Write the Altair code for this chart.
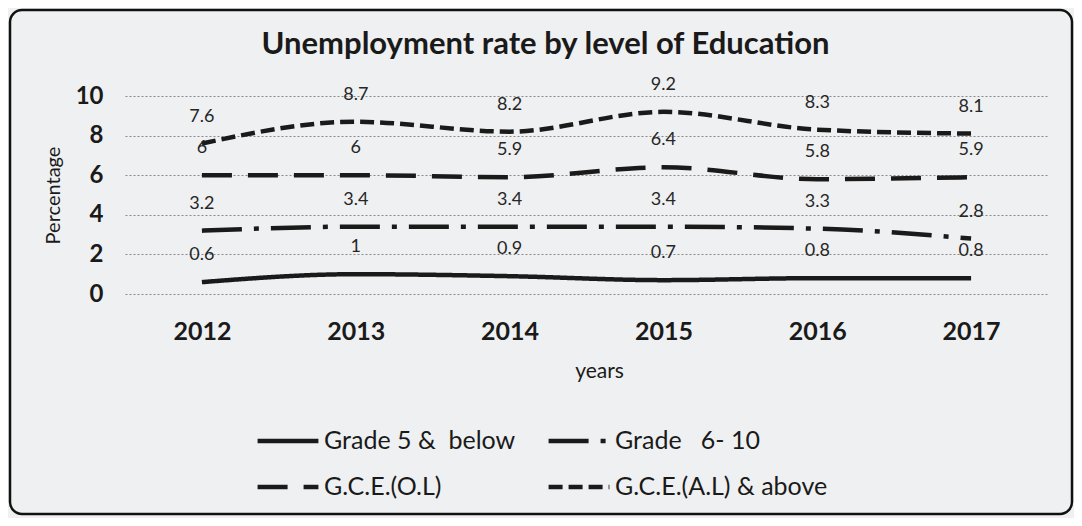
import altair as alt
import pandas as pd

years = ["2012", "2013", "2014", "2015", "2016", "2017"]
series_names = ["Grade 5 &\u00a0 below", "Grade \u00a0 6- 10", "G.C.E.(O.L)", "G.C.E.(A.L) & above"]
grade5_below = [0.6, 1, 0.9, 0.7, 0.8, 0.8]
grade6_10 = [3.2, 3.4, 3.4, 3.4, 3.3, 2.8]
gce_ol = [6, 6, 5.9, 6.4, 5.8, 5.9]
gce_al = [7.6, 8.7, 8.2, 9.2, 8.3, 8.1]

values = [grade5_below, grade6_10, gce_ol, gce_al]
rows = []
for name, vals in zip(series_names, values):
    for y, v in zip(years, vals):
        rows.append({"year": y, "series": name, "value": v})
df = pd.DataFrame(rows)

W, H = 923, 198
FONT = "Lato"
INK = "#1a1a1a"
BG = "#eff0f1"

x_enc = alt.X("year:N", scale=alt.Scale(type="point", padding=0.5),
              axis=alt.Axis(title="years", labelAngle=0, labelFontSize=25, labelFontWeight="bold",
                            labelColor=INK, labelPadding=25, ticks=False, domain=False, grid=False,
                            titleFontSize=21, titleFontWeight="normal", titleColor=INK, titlePadding=16,
                            titleX=474, titleAlign="center"))
y_enc = alt.Y("value:Q", scale=alt.Scale(domain=[0, 10], nice=False),
              axis=alt.Axis(title="Percentage", values=[0, 2, 4, 6, 8, 10], labelFontSize=24,
                            labelFontWeight="bold", labelColor=INK, labelPadding=22, ticks=False,
                            labelOverlap=False,
                            domain=False, grid=True, gridColor="#8a8a8a", gridDash=[2, 2], gridWidth=1,
                            titleFontSize=20, titleFontWeight="normal", titleColor=INK, titlePadding=12))

dash_scale = alt.Scale(domain=series_names,
                       range=[[1, 0], [40, 12, 5, 12], [30, 16], [14, 6]])

frame = alt.Chart(pd.DataFrame({"a": [0]})).mark_rect(
    filled=False, stroke="#111111", strokeWidth=2.5, cornerRadius=12
).encode(x=alt.value(-115), x2=alt.value(W + 24), y=alt.value(-86), y2=alt.value(H + 220))

lines = alt.Chart(df).mark_line(interpolate="monotone", strokeWidth=4.5, color=INK).encode(
    x=x_enc, y=y_enc,
    strokeDash=alt.StrokeDash("series:N", scale=dash_scale, sort=series_names,
                              legend=alt.Legend(title=None, orient="none", legendX=130, legendY=312,
                                                direction="horizontal", columns=2, columnPadding=23,
                                                rowPadding=-19,
                                                symbolType="stroke", symbolSize=3700,
                                                symbolStrokeWidth=4.5, symbolStrokeColor=INK,
                                                labelFontSize=25, labelColor=INK, labelFont=FONT,
                                                labelOffset=3, labelLimit=400, padding=0)),
)

labels = alt.Chart(df).mark_text(dy=-27, fontSize=18, color="#262626", font=FONT).encode(
    x=x_enc, y=y_enc,
    text=alt.Text("value:Q"),
)

chart = alt.layer(frame, lines, labels).properties(
    width=W, height=H,
    title=alt.TitleParams("Unemployment rate by level of Education", fontSize=31, fontWeight="bold",
                          font=FONT, color=INK, anchor="middle", dx=-41, offset=-76,
                          baseline="alphabetic"),
    autosize=alt.AutoSizeParams(type="none"),
    padding={"left": 117, "top": 88, "right": 26, "bottom": 224},
    background=BG,
).configure(font=FONT).configure_view(stroke=None)

chart.save("out.html", embed_options={"renderer": "svg", "actions": False})
